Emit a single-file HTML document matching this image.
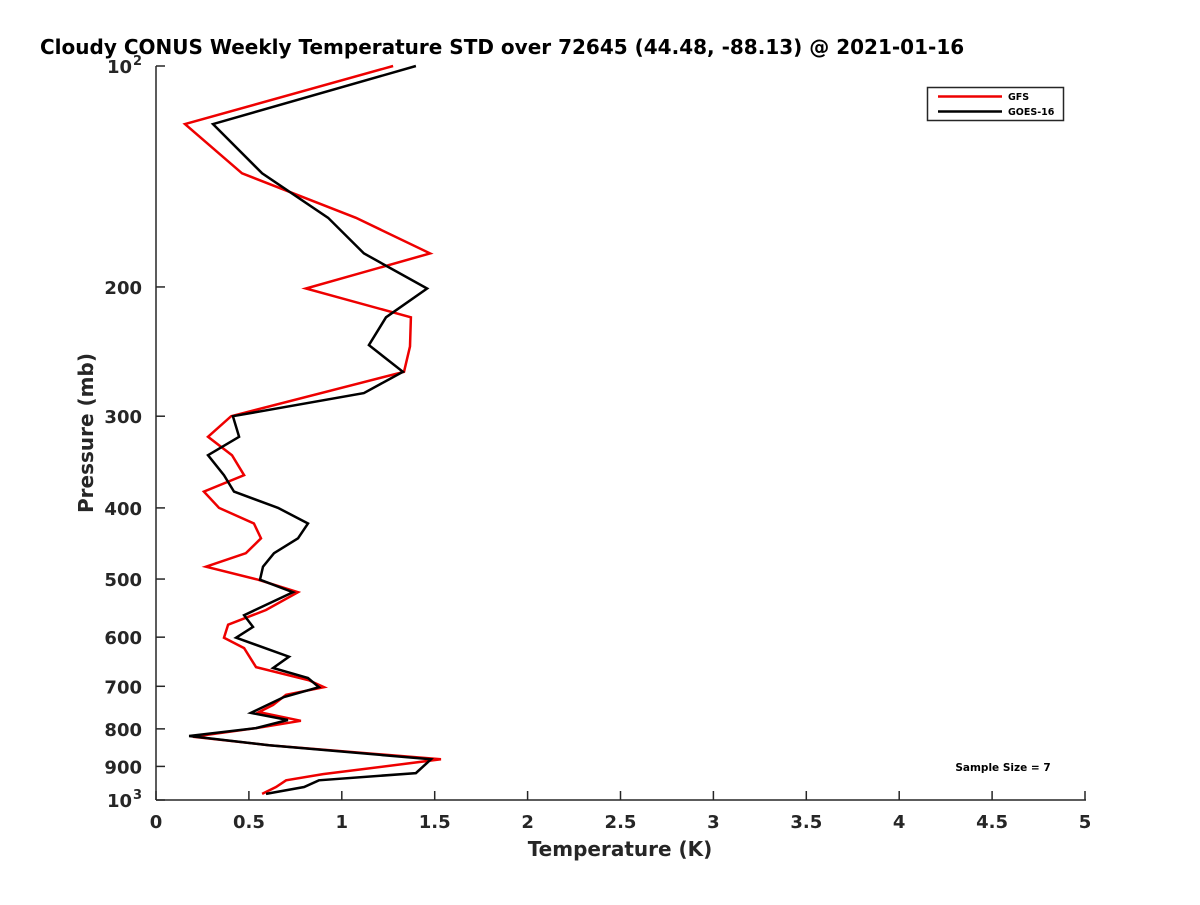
<!DOCTYPE html>
<html><head><meta charset="utf-8"><style>
body{margin:0;background:#fff;}
svg text{font-family:"DejaVu Sans","Liberation Sans",sans-serif;font-weight:bold;fill:#262626;}
</style></head><body>
<svg id="chart" width="1200" height="900" xmlns="http://www.w3.org/2000/svg">
<rect width="1200" height="900" fill="#fff"/>
<text x="40" y="54" font-size="20" style="fill:#000">Cloudy CONUS Weekly Temperature STD over 72645 (44.48, -88.13) @ 2021-01-16</text>
<g id="axes"></g>
<g id="series"></g>
<g>
<rect x="927.5" y="87.5" width="136" height="33" fill="#fff" stroke="#262626" stroke-width="1.5"/>
<line x1="938" y1="96.5" x2="1002" y2="96.5" stroke="#ee0000" stroke-width="2.5"/>
<text x="1008" y="100" font-size="9.5" style="fill:#000">GFS</text>
<line x1="938" y1="111.5" x2="1002" y2="111.5" stroke="#000" stroke-width="2.5"/>
<text x="1008" y="115" font-size="9.5" style="fill:#000">GOES-16</text>
</g>
<text x="1003" y="771" font-size="10.5" text-anchor="middle" style="fill:#000">Sample Size = 7</text>
<text x="620" y="856" font-size="20" text-anchor="middle">Temperature (K)</text>
<text transform="translate(93,433) rotate(-90)" font-size="20" text-anchor="middle">Pressure (mb)</text>
</svg>
<script>
const xTicks=[0,0.5,1,1.5,2,2.5,3,3.5,4,4.5,5];
const xTickLabels=["0","0.5","1","1.5","2","2.5","3","3.5","4","4.5","5"];
const yTicks=[100,200,300,400,500,600,700,800,900,1000];
const yTickLabels=["10^2","200","300","400","500","600","700","800","900","10^3"];
const gfsTemp=[1.276,0.156,0.463,1.076,1.475,0.807,1.372,1.367,1.335,0.404,0.280,0.409,0.474,0.258,0.339,0.527,0.565,0.484,0.269,0.549,0.764,0.592,0.388,0.366,0.474,0.538,0.823,0.904,0.700,0.630,0.554,0.780,0.538,0.199,0.608,1.534,0.899,0.700,0.646,0.571];
const gfsPres=[100,120,140,161,180,201,220,241,261,300,320,339,361,380,400,420,440,461,481,501,521,551,577,601,621,659,687,702,719,742,759,780,798,820,842,880,922,940,960,981];
const goesTemp=[1.399,0.307,0.571,0.926,1.119,1.459,1.238,1.146,1.329,1.119,0.414,0.447,0.280,0.366,0.420,0.657,0.818,0.764,0.635,0.576,0.560,0.737,0.474,0.522,0.431,0.716,0.630,0.818,0.877,0.689,0.511,0.710,0.538,0.178,0.608,1.480,1.399,0.877,0.797,0.592];
const goesPres=[100,120,140,161,180,201,220,240,261,279,300,320,339,361,380,400,420,440,461,481,501,521,560,581,601,638,661,682,702,724,761,778,798,818,842,880,919,940,960,981];

const L=156,R=1085,T=66,B=800;
const NS="http://www.w3.org/2000/svg";
function xs(v){return L+(v-0)/(5-0)*(R-L);}
function ys(p){return T+(Math.log10(p)-2)*(B-T);}
function mk(tag,attrs,parent){const e=document.createElementNS(NS,tag);for(const k in attrs)e.setAttribute(k,attrs[k]);parent.appendChild(e);return e;}
const axes=document.getElementById('axes');
const xAxis=mk('line',{x1:L,y1:B,x2:R+1,y2:B,stroke:'#262626','stroke-width':1.5},axes);


const yAxis=mk('line',{x1:L,y1:T,x2:L,y2:B,stroke:'#262626','stroke-width':1.5},axes);


xTicks.forEach((v,i)=>{
  const x=xs(v);
  const t=mk('line',{x1:x,y1:B,x2:x,y2:B-9,stroke:'#262626','stroke-width':1.5},axes);
  
  
  const lb=mk('text',{x:x,y:B+28,'font-size':18,'text-anchor':'middle'},axes);
  lb.textContent=xTickLabels[i];
  
  
});
yTicks.forEach((p,i)=>{
  const y=ys(p);
  const t=mk('line',{x1:L,y1:y,x2:L+9,y2:y,stroke:'#262626','stroke-width':1.5},axes);
  
  
  const s=yTickLabels[i];
  const lb=mk('text',{x:L-14,y:y+7,'font-size':18,'text-anchor':'end'},axes);
  
  
  if(s.indexOf('^')>=0){
    const parts=s.split('^');
    lb.setAttribute('x',L-24);
    lb.textContent=parts[0];
    const sup=mk('text',{x:L-14,y:y-1,'font-size':13,'text-anchor':'end'},axes);
    sup.textContent=parts[1];
    
    
  } else lb.textContent=s;
});
const series=document.getElementById('series');
function line(temps,pres,color,name){
  const pts=temps.map((t,i)=>xs(t).toFixed(1)+','+ys(pres[i]).toFixed(1)).join(' ');
  const pl=mk('polyline',{points:pts,fill:'none',stroke:color,'stroke-width':2.5,'stroke-linejoin':'miter'},series);
  
  
}
line(gfsTemp,gfsPres,'#ee0000','gfs-line');
line(goesTemp,goesPres,'#000000','goes16-line');
</script>
</body></html>
